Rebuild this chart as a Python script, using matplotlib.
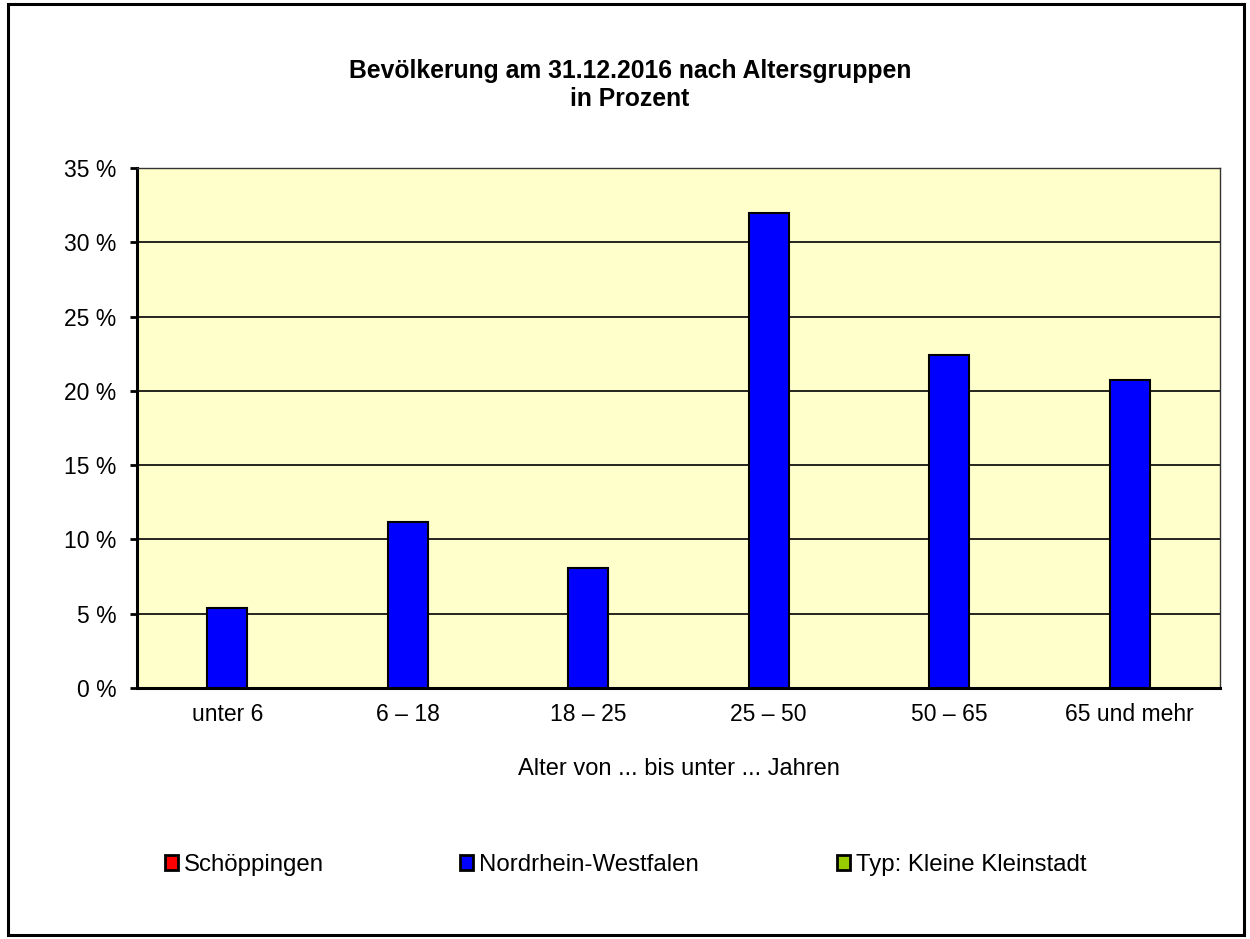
"""
Bevölkerung nach Altersgruppen - Säulendiagramm.
"""
from matplotlib import pyplot as plt
from matplotlib.patches import Rectangle
from matplotlib.ticker import FuncFormatter
import numpy as np

plt.rcParams['font.family'] = ['Liberation Sans', 'DejaVu Sans']

groups = ['unter 6', '6 – 18', '18 – 25', '25 – 50', '50 – 65', '65 und mehr']
series_names = ['Schöppingen', 'Nordrhein-Westfalen', 'Typ: Kleine Kleinstadt']
schoeppingen = [np.nan] * 6
nrw = [5.4, 11.2, 8.1, 32.0, 22.4, 20.7]
typ = [np.nan] * 6
colors = ['#FF0000', '#0000FF', '#99CC00']

fig = plt.figure(figsize=(12.5, 9.39), dpi=100)
ax = fig.add_axes([137 / 1250, 1 - 688 / 939, (1220 - 137) / 1250, (688 - 168) / 939])
ax.set_facecolor('#FFFFCC')

x = np.arange(len(groups))
w = 0.222
bars = []
for i, (vals, name, c) in enumerate(zip([schoeppingen, nrw, typ], series_names, colors)):
    b = ax.bar(x + (i - 1) * w, vals, w, color=c, edgecolor='black', linewidth=1.5,
               label=name, zorder=3)
    bars.append(b)

ax.set_xlim(-0.5, len(groups) - 0.5)
ax.set_ylim(0, 35)
ax.set_yticks(np.arange(0, 36, 5))
ax.yaxis.set_major_formatter(FuncFormatter(lambda v, p: f'{v:.0f} %'))
ax.grid(axis='y', color='black', linewidth=1.2, zorder=1)
ax.set_axisbelow(True)

ax.set_xticks(x)
ax.set_xticklabels(groups)
ax.tick_params(axis='x', length=0, pad=11, labelsize=16.5)
ax.tick_params(axis='y', length=5, width=2, pad=10, labelsize=16.5, direction='out')

for s in ['left', 'bottom']:
    ax.spines[s].set_linewidth(2.2)
for s in ['top', 'right']:
    ax.spines[s].set_linewidth(1.0)
    ax.spines[s].set_color('#333333')

ax.set_xlabel('Alter von ... bis unter ... Jahren', fontsize=17, labelpad=23)

fig.text(0.504, 1 - 85 / 939, 'Bevölkerung am 31.12.2016 nach Altersgruppen\nin Prozent',
         ha='center', va='center', fontsize=17.8, fontweight='bold', linespacing=1.2)

# one legend per entry, as in the original the columns sit at fixed places
for b, xpos in zip(bars, [165, 460, 837]):
    leg = fig.legend(handles=[b], loc='upper left', bbox_to_anchor=(xpos / 1250, 1 - 854 / 939),
                     frameon=False, fontsize=17.3, handlelength=0.55, handleheight=0.55,
                     handletextpad=0.22, borderaxespad=0, borderpad=0)
    for p in leg.get_patches():
        p.set_linewidth(2)

fig.patches.append(Rectangle((8 / 1250, 4 / 939), 1236 / 1250, 931 / 939,
                             transform=fig.transFigure, fill=False,
                             edgecolor='black', linewidth=2.2))

fig.savefig('out.png', dpi=100)
